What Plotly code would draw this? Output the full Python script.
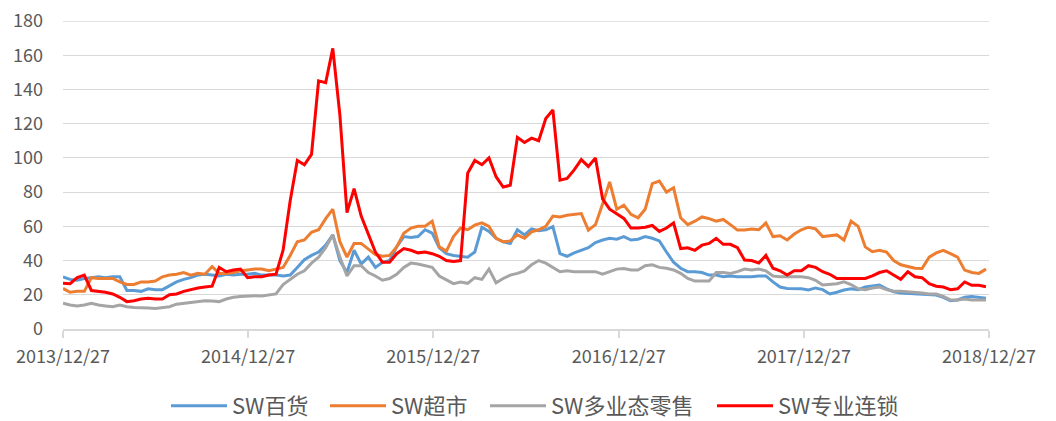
import pandas as pd
import plotly.graph_objects as go

# biweekly observation dates
dates = pd.date_range("2013-12-27", periods=131, freq="14D")

sw_department = [
    30.5, 29, 28.5, 29.5, 30, 30.5, 30, 30.5, 30.5, 22.5,
    22.5, 22, 23.5, 23, 23, 25.5, 27.5, 29, 30, 31.5,
    32, 31.5, 31, 32, 31.5, 32, 32, 32.5, 31.5, 31.5,
    31.5, 31, 31.5, 36, 40.5, 43, 45, 49, 55, 40,
    33, 46, 38, 42, 36, 39, 40, 48, 54, 53.5,
    54, 58, 56, 47.5, 44, 43, 42.5, 42, 45, 59.5,
    57, 53, 51, 50, 58, 55, 58.5, 57.5, 58, 59.8,
    44, 42.5, 44.5, 46, 47.5, 50.5, 52, 53, 52.5, 54,
    52, 52.5, 54, 53, 51.5, 45, 39, 35.5, 33.5, 33.5,
    33, 31.5, 31.5, 30.5, 31, 30.5, 30.5, 30.5, 31, 31,
    27.5, 24.5, 23.7, 23.7, 23.5, 22.8, 24, 23, 20.5, 21.5,
    22.8, 23.5, 23, 24.5, 25, 25.7, 23.5, 21.8, 21, 20.8,
    20.5, 20, 19.8, 19.8, 18.5, 16.5, 17, 18.5, 19, 18.5,
    18,
]

sw_supermarket = [
    23.7, 21.5, 22, 22, 30, 29.5, 29.5, 29.5, 27.5, 26,
    26, 27.5, 27.5, 28, 30.5, 31.5, 32, 33, 31.5, 32.5,
    32, 36.5, 32.5, 32.5, 33, 34, 34.5, 35, 35, 34,
    35, 36, 43, 51, 52, 56.5, 58, 64.5, 70, 51,
    42, 50, 50, 47, 43.5, 42.5, 43, 48, 56, 59,
    60, 60, 63, 48, 45.5, 54, 59, 58, 60.7, 62,
    60, 53, 51, 51.5, 55, 53, 56.8, 58, 60, 66,
    65.5, 66.5, 67, 67.5, 57.8, 61, 73, 86, 70, 72.4,
    67, 65, 70, 85, 86.5, 80, 82.5, 65, 61, 63,
    65.5, 64.5, 63, 64, 61, 57.8, 57.8, 58.5, 58, 62,
    54, 54.5, 52, 55.5, 58, 59.5, 58.5, 54, 54.5, 55,
    52, 63, 60, 48, 45.2, 46, 45, 40, 37.5, 36.5,
    35.5, 35.4, 42, 44.5, 46, 44, 42, 34.4, 33, 32.5,
    35,
]

sw_multiformat = [
    15, 14, 13.5, 14, 15, 14, 13.5, 13, 14, 13,
    12.5, 12.5, 12.2, 12, 12.5, 13, 14.5, 15, 15.5, 16,
    16.5, 16.3, 16, 17.5, 18.5, 19, 19.3, 19.5, 19.3, 20,
    20.5, 26, 29, 32, 34, 38.5, 42, 47.5, 55, 42,
    31, 37, 37, 33, 31, 28.5, 29.5, 32, 36, 38.5,
    38, 37, 36, 31, 28.5, 26.5, 27.5, 26.7, 30, 29,
    35, 27, 29.5, 31.5, 32.5, 34, 37.5, 40, 38.5, 36,
    33.5, 34, 33.5, 33.5, 33.5, 33.5, 32, 33.5, 35, 35.4,
    34.5, 34.5, 37, 37.5, 36, 35.5, 34.5, 32.5, 29.5, 28,
    28, 28, 33, 33, 32.5, 33.5, 35, 34.5, 35, 34,
    31, 30.5, 30.5, 30.5, 30.5, 30, 28.5, 25.7, 26, 26.5,
    27.6, 26, 23.5, 23, 24, 24.5, 23, 22, 22, 21.8,
    21.5, 21, 20.5, 20.5, 19, 17, 17, 17.5, 17, 17,
    17,
]

sw_specialty = [
    26.7, 26.5, 30, 31.5, 22.5, 22, 21.5, 20.5, 18.5, 16,
    16.5, 17.5, 18, 17.5, 17.5, 20, 20.5, 22, 23, 24,
    24.5, 25, 36, 33.5, 34.5, 35, 30, 30.5, 30.5, 31.5,
    32, 46, 75, 98.5, 96, 102, 145, 144, 164, 125,
    68, 82, 66, 56, 45, 39, 39, 44, 47, 46,
    44.5, 45, 44, 42.5, 40, 39.5, 40, 91, 98.5, 96,
    100, 89, 83, 84, 112, 109, 111.5, 110, 123, 128,
    87, 88, 93, 99, 95, 100, 76, 70, 67.5, 64.6,
    59, 59, 59.5, 60.5, 57, 59, 62, 47, 47.5, 46,
    49, 50, 53, 49.5, 49.5, 47.5, 40.3, 40, 38.5, 43,
    35.5, 34, 31.5, 34, 34, 37, 36, 33.5, 32, 29.5,
    29.5, 29.5, 29.5, 29.5, 31, 33, 34, 31.5, 29, 33.5,
    30.5, 30, 26.5, 25, 24.5, 23, 23.5, 27.5, 25.5, 25.5,
    24.7,
]

series_names = ["SW百货", "SW超市", "SW多业态零售", "SW专业连锁"]
series_values = [sw_department, sw_supermarket, sw_multiformat, sw_specialty]
series_colors = ["#5B9BD5", "#ED7D31", "#A5A5A5", "#FF0000"]
legend_widths = [88, 89, 156, 125]

tick_dates = ["2013-12-27", "2014-12-27", "2015-12-27", "2016-12-27", "2017-12-27", "2018-12-27"]
tick_labels = ["2013/12/27", "2014/12/27", "2015/12/27", "2016/12/27", "2017/12/27", "2018/12/27"]
y_ticks = [0, 20, 40, 60, 80, 100, 120, 140, 160, 180]
y_max = 180

FONT = "Noto Sans CJK SC, Noto Sans, sans-serif"
TXT = "#595959"
GRID = "#D9D9D9"

# the page body has an 8px margin, so the figure is drawn 8px smaller
W, H = 1048, 413
L, R, T, B = 55, 67, 13, 92
plot_w = W - L - R

fig = go.Figure()
for name, vals, col, lw in zip(series_names, series_values, series_colors, legend_widths):
    fig.add_trace(go.Scatter(
        x=dates, y=vals, name=name, mode="lines",
        line=dict(color=col, width=3, shape="linear"),
        legendwidth=lw,
    ))

# top gridline (at the edge of the plotting area)
fig.add_shape(type="line", xref="paper", x0=0, x1=1, yref="y", y0=y_max, y1=y_max,
              line=dict(color=GRID, width=1.3), layer="below")

fig.update_layout(
    width=W, height=H,
    margin=dict(l=L, r=R, t=T, b=B, autoexpand=False),
    paper_bgcolor="white", plot_bgcolor="white",
    font=dict(family=FONT, color=TXT, size=18),
    showlegend=True,
    legend=dict(
        orientation="h", x=(166 - 8 - L) / plot_w, xref="paper", xanchor="left",
        y=15 / H, yref="container", yanchor="middle",
        font=dict(family=FONT, size=22, color=TXT),
        itemwidth=56, traceorder="normal",
    ),
)

fig.update_xaxes(
    type="date", range=["2013-12-27", "2018-12-27"],
    tickvals=tick_dates, ticktext=tick_labels,
    showgrid=False, showline=True, linecolor=GRID, linewidth=1.5,
    ticks="outside", ticklen=7, tickcolor=GRID, tickwidth=1.5,
    tickfont=dict(family=FONT, size=18, color=TXT),
    ticklabelstandoff=4, ticklabeloverflow="allow",
    zeroline=False, automargin=False,
)
fig.update_yaxes(
    range=[0, y_max], tickvals=y_ticks,
    showgrid=True, gridcolor=GRID, gridwidth=1.3,
    showline=False, zeroline=False, ticks="",
    tickfont=dict(family=FONT, size=18, color=TXT),
    ticklabelstandoff=19, ticklabeloverflow="allow", automargin=False,
)

fig.write_html("out.html")
